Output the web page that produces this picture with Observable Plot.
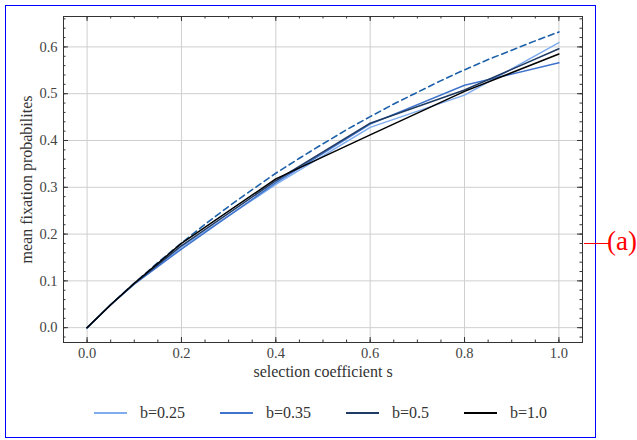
<!DOCTYPE html>
<html>
<head>
<meta charset="utf-8">
<script src="https://cdn.jsdelivr.net/npm/d3@7"></script>
<script src="https://cdn.jsdelivr.net/npm/@observablehq/plot@0.6"></script>
<style>
  html, body { margin: 0; padding: 0; background: #fff; }
  #wrap { position: relative; width: 637px; height: 440px; overflow: hidden; font-family: "Liberation Serif", "DejaVu Serif", serif; }
  #border { position: absolute; left: 5px; top: 5px; width: 589px; height: 431px; border: 1px solid #0000ff; box-sizing: content-box; pointer-events: none; }
  #chart { position: absolute; left: 0; top: 0; }
  #legend { position: absolute; left: 0; top: 385px; width: 637px; height: 55px; }
  .item { position: absolute; top: 18px; height: 20px; display: flex; align-items: center; }
  .swatch { width: 33px; height: 0; border-top: 2px solid; margin-right: 13px; }
  .lab { font-size: 16px; color: #333; }
  #tag-line { position: absolute; left: 584px; top: 243px; width: 26px; height: 0; border-top: 1px solid #ff0000; }
  #tag { position: absolute; left: 607px; top: 228px; font-size: 27px; color: #ff0000; font-family: "Liberation Serif", "DejaVu Serif", serif; line-height: 1; }
</style>
</head>
<body>
<div id="wrap">
  <div id="chart"></div>
  <div id="legend"></div>
  <div id="border"></div>
  <div id="tag-line"></div>
  <div id="tag">(a)</div>
</div>
<script>
// ---- data ----
const sSim = [0, 0.05, 0.1, 0.2, 0.4, 0.6, 0.8, 1.0];
const pB025 = [0, 0.049, 0.094, 0.172, 0.306, 0.428, 0.497, 0.609];
const pB035 = [0, 0.049, 0.093, 0.168, 0.310, 0.435, 0.518, 0.566];
const pB05  = [0, 0.049, 0.094, 0.175, 0.314, 0.437, 0.508, 0.596];
const pB10  = [0, 0.049, 0.095, 0.180, 0.318, 0.412, 0.505, 0.585];
const seriesNames = ["b=0.25", "b=0.35", "b=0.5", "b=1.0"];
const seriesColors = ["#7eacef", "#3f73cc", "#1f3a64", "#000000"];

const sTheory = [0, 0.05, 0.1, 0.15, 0.2, 0.25, 0.3, 0.35, 0.4, 0.45, 0.5, 0.55, 0.6, 0.65, 0.7, 0.75, 0.8, 0.85, 0.9, 0.95, 1.0];
const pTheory = [0, 0.049, 0.095, 0.139, 0.181, 0.221, 0.259, 0.295, 0.330, 0.362, 0.393, 0.423, 0.451, 0.478, 0.503, 0.528, 0.551, 0.573, 0.593, 0.613, 0.632];

const xTicks = [0, 0.2, 0.4, 0.6, 0.8, 1.0];
const yTicks = [0, 0.1, 0.2, 0.3, 0.4, 0.5, 0.6];
const xMinor = [0, 0.05, 0.1, 0.15, 0.2, 0.25, 0.3, 0.35, 0.4, 0.45, 0.5, 0.55, 0.6, 0.65, 0.7, 0.75, 0.8, 0.85, 0.9, 0.95, 1.0];
const yMinor = [-0.02, 0, 0.02, 0.04, 0.06, 0.08, 0.1, 0.12, 0.14, 0.16, 0.18, 0.2, 0.22, 0.24, 0.26, 0.28, 0.3, 0.32, 0.34, 0.36, 0.38, 0.4, 0.42, 0.44, 0.46, 0.48, 0.5, 0.52, 0.54, 0.56, 0.58, 0.6, 0.62, 0.64, 0.66];

// ---- build tables ----
const allSeries = [pB025, pB035, pB05, pB10];
const sim = [];
allSeries.forEach((vals, i) => vals.forEach((p, j) => sim.push({s: sSim[j], p, b: seriesNames[i]})));
const theory = sTheory.map((s, i) => ({s, p: pTheory[i]}));

const W = 637, H = 385, mL = 63, mR = 55, mT = 16, mB = 43;
const pw = W - mL - mR, ph = H - mT - mB;
const major = 5, minor = 2.5;
const tickColor = "#333";
const fam = "'Liberation Serif', 'DejaVu Serif', serif";

const chart = Plot.plot({
  width: W, height: H,
  marginLeft: mL, marginRight: mR, marginTop: mT, marginBottom: mB,
  x: {domain: [-0.05, 1.05]},
  y: {domain: [-0.0317, 0.665]},
  color: {domain: seriesNames, range: seriesColors},
  style: {fontFamily: fam, fontSize: "15px", color: "#444", background: "transparent"},
  marks: [
    Plot.gridX(xTicks, {stroke: "#cfcfcf", strokeOpacity: 1, strokeWidth: 1}),
    Plot.gridY(yTicks, {stroke: "#cfcfcf", strokeOpacity: 1, strokeWidth: 1}),
    Plot.line(theory, {x: "s", y: "p", stroke: "#1c60aa", strokeWidth: 1.6, strokeDasharray: "6,4"}),
    Plot.line(sim, {x: "s", y: "p", z: "b", stroke: "b", strokeWidth: 1.5}),
    Plot.frame({stroke: "#333", strokeWidth: 1}),
    // inward ticks, bottom & top
    Plot.tickX(xTicks, {x: d => d, insetTop: ph - major, stroke: tickColor}),
    Plot.tickX(xTicks, {x: d => d, insetBottom: ph - major, stroke: tickColor}),
    Plot.tickX(xMinor, {x: d => d, insetTop: ph - minor, stroke: tickColor}),
    Plot.tickX(xMinor, {x: d => d, insetBottom: ph - minor, stroke: tickColor}),
    // inward ticks, left & right
    Plot.tickY(yTicks, {y: d => d, insetRight: pw - major, stroke: tickColor}),
    Plot.tickY(yTicks, {y: d => d, insetLeft: pw - major, stroke: tickColor}),
    Plot.tickY(yMinor, {y: d => d, insetRight: pw - minor, stroke: tickColor}),
    Plot.tickY(yMinor, {y: d => d, insetLeft: pw - minor, stroke: tickColor}),
    Plot.axisX(xTicks, {tickSize: 0, tickPadding: 5, tickFormat: d3.format(".1f"), label: null, fill: "#444", fontSize: 14.5}),
    Plot.axisY(yTicks, {tickSize: 0, tickPadding: 6, tickFormat: d3.format(".1f"), label: null, fill: "#444", fontSize: 14.5}),
    Plot.text(["selection coefficient s"], {frameAnchor: "bottom", dy: 34, text: d => d, fill: "#333", fontSize: 16, textAnchor: "middle"}),
    Plot.text(["mean fixation probabilites"], {frameAnchor: "left", dx: -37, rotate: -90, text: d => d, fill: "#333", fontSize: 16, textAnchor: "middle"})
  ]
});
document.getElementById("chart").appendChild(chart);

// ---- legend ----
const legend = document.getElementById("legend");
const lefts = [94, 220, 346, 464];
seriesNames.forEach((name, i) => {
  const it = document.createElement("div");
  it.className = "item";
  it.style.left = lefts[i] + "px";
  it.innerHTML = `<div class="swatch" style="border-color:${seriesColors[i]}"></div><span class="lab">${name}</span>`;
  legend.appendChild(it);
});
</script>
</body>
</html>
